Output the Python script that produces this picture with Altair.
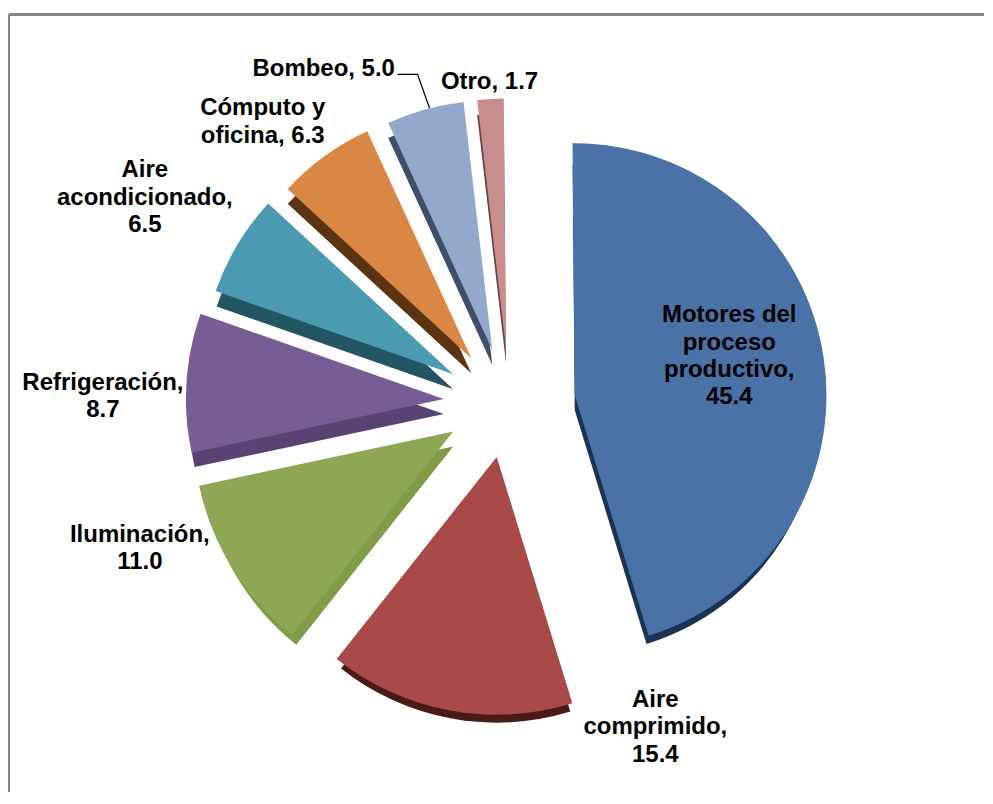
import math
import altair as alt
import pandas as pd

names = ["Motores del proceso productivo", "Aire comprimido", "Iluminación", "Refrigeración",
         "Aire acondicionado", "Cómputo y oficina", "Bombeo", "Otro"]
values = [45.4, 15.4, 11.0, 8.7, 6.5, 6.3, 5.0, 1.7]
top_radius = [252, 258, 260, 258, 252, 250, 250, 250]
side_radius = [245, 251, 253, 255, 251, 250, 250, 250]
top_colors = ["#4A72A6", "#A74A48", "#8DA755", "#775D94", "#4A9BB2", "#D98743", "#94A8CC", "#C88D8D"]
side_colors = ["#1B3252", "#4A1A18", "#809C48", "#5A4372", "#235663", "#5A3413", "#3F4F68", "#6B4343"]
labels = ["Motores del\nproceso\nproductivo,\n45.4", "Aire\ncomprimido,\n15.4", "Iluminación,\n11.0",
          "Refrigeración,\n8.7", "Aire\nacondicionado,\n6.5", "Cómputo y\noficina, 6.3",
          "Bombeo, 5.0", "Otro, 1.7"]
label_x = [730, 656, 140, 103, 145, 263, 324, 490]
label_y = [315, 700, 535, 383, 170, 108, 69, 82]
leader_x = [398, 418, 430]
leader_y = [74, 74, 108]
leader_order = [0, 1, 2]

starts, ends, total = [], [], 0.0
for v in values:
    starts.append(total)
    total += v
    ends.append(total)

df = pd.DataFrame({"name": names, "value": values, "start": starts, "end": ends,
                   "rt": top_radius, "rs": side_radius})
df_labels = pd.DataFrame({"text": labels, "x": label_x, "y": label_y})
df_leader = pd.DataFrame({"x": leader_x, "y": leader_y, "o": leader_order})

W, H = 977, 784
xs = alt.Scale(domain=[8, 8 + W], range=[0, W])
ys = alt.Scale(domain=[8, 8 + H], range=[0, H])
rot = -0.5 * math.pi / 180
ts = alt.Scale(domain=[0, 100], range=[rot, rot + 2 * math.pi])


def slices(colors, radius_field, shift):
    return (
        alt.Chart(df)
        .transform_calculate(mid="(datum.start + datum.end) / 200 * 2 * PI")
        .transform_calculate(
            px="510 + 66 * sin(datum.mid)",
            py=f"403 - 55 * cos(datum.mid) + {shift}",
        )
        .mark_arc()
        .encode(
            x=alt.X("px:Q", scale=xs, axis=None),
            y=alt.Y("py:Q", scale=ys, axis=None),
            theta=alt.Theta("start:Q", scale=ts),
            theta2="end:Q",
            radius=alt.Radius(f"{radius_field}:Q", scale=None),
            color=alt.Color("name:N", scale=alt.Scale(domain=names, range=colors), legend=None),
        )
    )


side = slices(side_colors, "rs", 15)
top = slices(top_colors, "rt", 0)

frame_top = alt.Chart(df).mark_rule(color="#868686", strokeWidth=2).encode(
    x=alt.value(1), x2=alt.value(W), y=alt.value(6))
frame_left = alt.Chart(df).mark_rule(color="#868686", strokeWidth=2).encode(
    x=alt.value(1), y=alt.value(6), y2=alt.value(H))

leader = alt.Chart(df_leader).mark_line(color="#000000", strokeWidth=1.2).encode(
    x=alt.X("x:Q", scale=xs, axis=None),
    y=alt.Y("y:Q", scale=ys, axis=None),
    order="o:Q",
)

text = alt.Chart(df_labels).mark_text(
    font="Liberation Sans", fontWeight="bold", fontSize=24, lineHeight=27.5,
    lineBreak="\n", align="center", baseline="middle", color="#000000",
).encode(
    x=alt.X("x:Q", scale=xs, axis=None),
    y=alt.Y("y:Q", scale=ys, axis=None),
    text="text:N",
)

chart = (
    alt.layer(frame_top, frame_left, side, top, leader, text)
    .resolve_scale(color="independent")
    .properties(width=W, height=H, padding=0)
    .configure_view(stroke=None)
)
chart.save("out.html", embed_options={"renderer": "svg", "actions": False})
